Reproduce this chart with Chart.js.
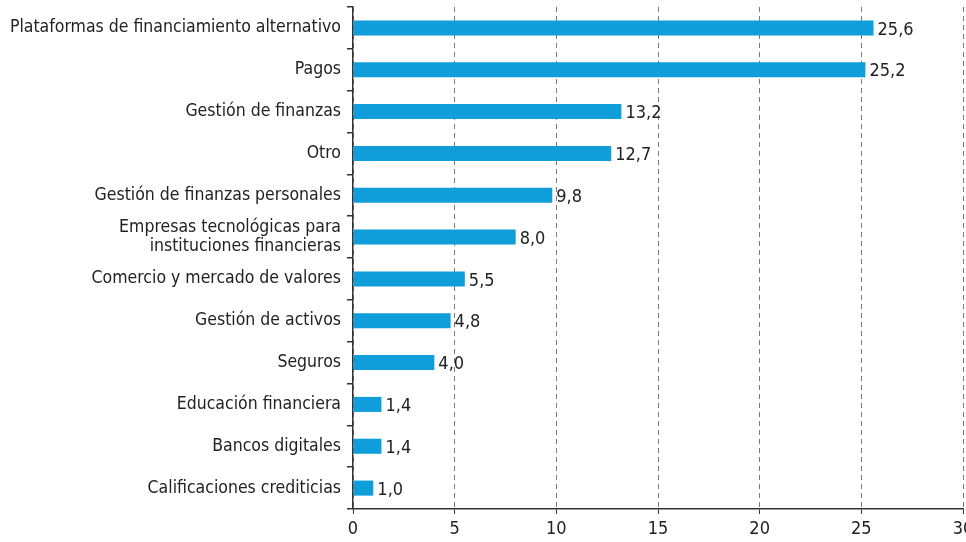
<!DOCTYPE html>
<html><head><meta charset="utf-8">
<script src="https://cdn.jsdelivr.net/npm/chart.js@4/dist/chart.umd.min.js"></script>
<style>html,body{margin:0;padding:0;background:#fff}#wrap{width:966px;height:542px}</style>
</head><body><div id="wrap"><canvas id="c" width="966" height="542"></canvas></div>
<script>
const categories = [
  "Plataformas de financiamiento alternativo",
  "Pagos",
  "Gestión de finanzas",
  "Otro",
  "Gestión de finanzas personales",
  ["Empresas tecnológicas para", "instituciones financieras"],
  "Comercio y mercado de valores",
  "Gestión de activos",
  "Seguros",
  "Educación financiera",
  "Bancos digitales",
  "Calificaciones crediticias"
];
const values = [25.6, 25.2, 13.2, 12.7, 9.8, 8.0, 5.5, 4.8, 4.0, 1.4, 1.4, 1.0];
const xTicks = [0, 5, 10, 15, 20, 25, 30];

const FONT = '"Liberation Sans Narrow", "DejaVu Sans Condensed", "Roboto", sans-serif';
const fmt = v => v.toFixed(1).replace('.', ',');

const labelPlugin = {
  id: 'valueLabels',
  afterDatasetsDraw(chart) {
    const ctx = chart.ctx;
    const meta = chart.getDatasetMeta(0);
    ctx.save();
    ctx.font = '18px ' + FONT;
    ctx.fillStyle = '#222';
    ctx.textBaseline = 'middle';
    ctx.textAlign = 'left';
    meta.data.forEach((bar, i) => {
      ctx.fillText(fmt(values[i]), bar.x + 4, bar.y + 2);
    });
    ctx.restore();
  }
};

new Chart(document.getElementById('c'), {
  type: 'bar',
  data: {
    labels: categories,
    datasets: [{
      data: values,
      backgroundColor: '#0f9ed9',
      borderWidth: 0,
      barPercentage: 0.72,
      categoryPercentage: 0.5
    }]
  },
  options: {
    indexAxis: 'y',
    responsive: false,
    animation: false,
    layout: { padding: { top: 7, right: 3, left: 0, bottom: 0 } },
    plugins: { legend: { display: false }, tooltip: { enabled: false } },
    scales: {
      x: {
        min: 0, max: 30,
        afterBuildTicks: s => { s.ticks = xTicks.map(v => ({ value: v })); },
        afterFit: s => { s.height = 33; s.paddingLeft = 0; s.paddingRight = 0; },
        grid: {
          color: '#7a7a7a',
          lineWidth: 1,
          tickColor: '#333',
          tickLength: 5,
          drawTicks: true
        },
        border: { display: true, color: '#333', width: 1.5, dash: [5, 4] },
        ticks: { color: '#222', font: { family: FONT, size: 18 }, padding: 5 }
      },
      y: {
        offset: true,
        afterFit: s => { s.width = 353; s.paddingTop = 0; s.paddingBottom = 0; },
        grid: { offset: true, drawOnChartArea: false, drawTicks: true, tickLength: 6, tickColor: '#333', lineWidth: 1.5 },
        border: { display: true, color: '#333', width: 1.5 },
        ticks: { color: '#222', font: { family: FONT, size: 17.5, lineHeight: 1.05 }, padding: 6, autoSkip: false }
      }
    }
  },
  plugins: [labelPlugin]
});
</script>
</body></html>
